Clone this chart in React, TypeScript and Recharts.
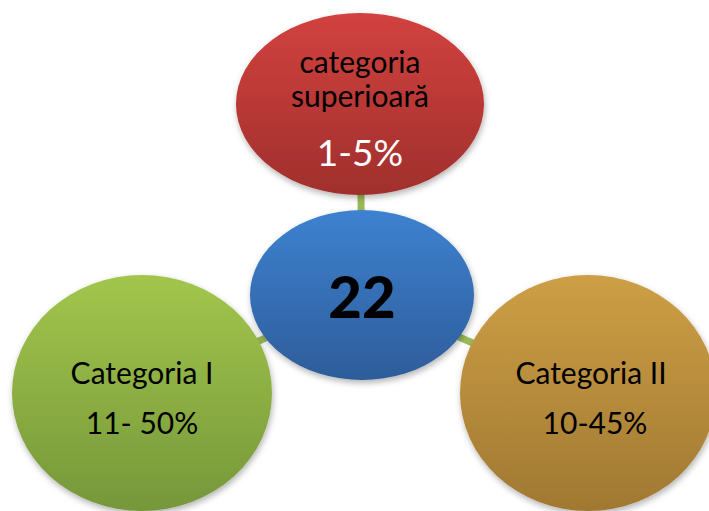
import React from "react";
import { ScatterChart, Scatter, XAxis, YAxis } from "recharts";

// diagram content
const centerValue = "22";
const categoryLabels = [["categoria", "superioară"], ["Categoria I"], ["Categoria II"]];
const categoryRanges = ["1-5%", "11- 50%", "10-45%"];

// layout (in chart units, 1 unit = 1px)
const W = 709;
const H = 511;
const centerNode = { x: 362, y: 295, rx: 112, ry: 85 };
const outerNodes = [
  { x: 360, y: 104, rx: 124, ry: 91 },
  { x: 142, y: 393, rx: 130, ry: 118 },
  { x: 588, y: 393, rx: 128, ry: 118 },
];

const gradients = [
  { id: "gRed", top: "#d2423f", bottom: "#a02f2c" },
  { id: "gGreen", top: "#a2c64c", bottom: "#76973a" },
  { id: "gOrange", top: "#cd9f45", bottom: "#a07832" },
  { id: "gBlue", top: "#3d82d0", bottom: "#2e5c9a" },
];

const FONT = "Lato, 'Open Sans', sans-serif";

const nodes = [
  {
    ...centerNode,
    fill: "url(#gBlue)",
    lines: [{ text: centerValue, dx: 0, dy: 0, size: 58, weight: 900, color: "#000" }],
  },
  {
    ...outerNodes[0],
    fill: "url(#gRed)",
    lines: [
      { text: categoryLabels[0][0], dx: 0, dy: -43, size: 30, weight: 400, color: "#000" },
      { text: categoryLabels[0][1], dx: 0, dy: -9, size: 30, weight: 400, color: "#000" },
      { text: categoryRanges[0], dx: 0, dy: 47, size: 37, weight: 400, color: "#fff" },
    ],
  },
  {
    ...outerNodes[1],
    fill: "url(#gGreen)",
    lines: [
      { text: categoryLabels[1][0], dx: 0, dy: -21, size: 30, weight: 400, color: "#000" },
      { text: categoryRanges[1], dx: 0, dy: 29, size: 30, weight: 400, color: "#000" },
    ],
  },
  {
    ...outerNodes[2],
    fill: "url(#gOrange)",
    lines: [
      { text: categoryLabels[2][0], dx: 3, dy: -21, size: 30, weight: 400, color: "#000" },
      { text: categoryRanges[2], dx: 7, dy: 29, size: 30, weight: 400, color: "#000" },
    ],
  },
];

const NodeShape = (props: any) => {
  const { cx, cy, payload } = props;
  if (cx == null || cy == null) return null;
  return (
    <g>
      <ellipse cx={cx} cy={cy} rx={payload.rx} ry={payload.ry} fill={payload.fill} filter="url(#shadow)" />
      {payload.lines.map((l: any, i: number) => (
        <text
          key={i}
          x={cx + l.dx}
          y={cy + l.dy}
          textAnchor="middle"
          dominantBaseline="central"
          fontFamily={FONT}
          fontSize={l.size}
          fontWeight={l.weight}
          fill={l.color}
        >
          {l.text}
        </text>
      ))}
    </g>
  );
};

export default function App() {
  return (
    <div style={{ position: "absolute", left: 0, top: 0, width: W, height: H, background: "#fff" }}>
      <ScatterChart width={W} height={H} margin={{ top: 0, right: 0, bottom: 0, left: 0 }}>
        <defs>
          {gradients.map((g) => (
            <linearGradient key={g.id} id={g.id} x1="0" y1="0" x2="0" y2="1">
              <stop offset="0%" stopColor={g.top} />
              <stop offset="100%" stopColor={g.bottom} />
            </linearGradient>
          ))}
          <filter id="shadow" x="-20%" y="-20%" width="140%" height="140%">
            <feDropShadow dx="1" dy="3" stdDeviation="3" floodColor="#000" floodOpacity="0.3" />
          </filter>
        </defs>
        <XAxis type="number" dataKey="x" domain={[0, W]} hide />
        <YAxis type="number" dataKey="y" domain={[0, H]} reversed hide />
        {outerNodes.map((n, i) => (
          <Scatter
            key={`link-${i}`}
            data={[centerNode, n]}
            line={{ stroke: "#9bbb59", strokeWidth: 7 }}
            shape={() => <g />}
            isAnimationActive={false}
          />
        ))}
        <Scatter data={nodes} shape={(p: any) => <NodeShape {...p} />} isAnimationActive={false} />
      </ScatterChart>
    </div>
  );
}
